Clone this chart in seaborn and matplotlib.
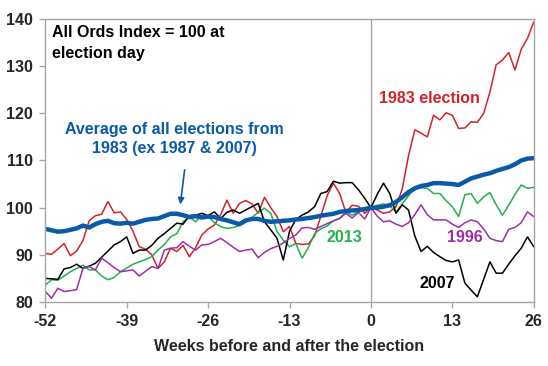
import numpy as np
import pandas as pd
import matplotlib
matplotlib.use("Agg")
import matplotlib.pyplot as plt
import seaborn as sns

weeks = list(range(-52, 27))

red_1983 = [90.3, 90.1, 91.2, 92.4, 89.8, 90.8, 93.0, 97.2, 98.3, 98.6,
            101.3, 98.9, 99.1, 97.5, 95.0, 91.7, 91.2, 90.0, 87.1, 88.5,
            91.4, 90.7, 92.0, 89.6, 91.5, 94.2, 95.5, 96.3, 98.5, 101.6,
            98.8, 100.9, 101.5, 100.8, 98.8, 102.2, 100.0, 98.1, 94.9, 96.0,
            92.4, 92.2, 92.3, 94.0, 98.2, 102.5, 105.2, 103.0, 99.0, 100.5,
            100.3, 98.8, 100.0, 99.5, 98.8, 99.1, 100.2, 104.0, 111.0, 116.5,
            115.8, 115.0, 119.6, 118.6, 120.1, 119.6, 116.8, 116.9, 118.2, 118.1,
            120.0, 124.5, 130.3, 131.3, 132.9, 129.2, 133.6, 135.9, 139.4]

green_2013 = [83.6, 84.7, 84.6, 85.5, 86.4, 87.1, 87.8, 86.8, 86.8, 85.5,
              84.7, 85.2, 86.4, 87.2, 88.0, 88.5, 89.0, 89.6, 91.0, 92.2,
              93.8, 94.5, 97.0, 98.0, 97.0, 98.4, 98.1, 96.8, 96.0, 95.6,
              95.8, 96.2, 96.9, 97.9, 99.0, 99.9, 98.8, 94.9, 93.1, 91.7,
              92.4, 89.3, 91.5, 94.5, 95.5, 96.1, 97.2, 97.7, 99.1, 98.4,
              99.1, 99.5, 100.0, 100.5, 100.8, 100.4, 99.1, 100.8, 102.5, 104.1,
              104.2, 104.1, 103.0, 103.0, 101.5, 100.2, 98.1, 102.7, 103.0, 100.9,
              102.3, 103.2, 100.6, 98.4, 100.5, 102.8, 104.8, 104.1, 104.3]

black_2007 = [85.0, 84.9, 84.8, 87.0, 87.3, 88.0, 87.1, 87.6, 88.2, 89.5,
              90.8, 92.1, 92.8, 93.8, 90.3, 91.0, 91.0, 92.0, 93.5, 94.5,
              95.6, 96.7, 96.5, 98.3, 98.4, 98.8, 98.3, 99.1, 97.7, 99.0,
              99.5, 98.8, 99.5, 100.2, 100.9, 97.0, 95.3, 93.5, 88.9, 95.0,
              97.5, 98.4, 99.1, 100.2, 103.0, 103.4, 105.6, 105.2, 105.3, 105.3,
              103.8, 102.0, 100.0, 102.8, 105.2, 103.0, 98.8, 100.6, 99.5, 94.0,
              90.7, 91.8, 90.5, 89.6, 88.8, 88.5, 88.9, 84.0, 82.5, 81.1,
              84.8, 88.5, 86.1, 86.1, 88.0, 89.8, 91.4, 93.8, 91.7]

purple_1996 = [82.2, 80.8, 82.9, 82.2, 82.4, 82.6, 87.1, 87.5, 86.8, 89.3,
               88.3, 87.3, 86.4, 86.6, 86.8, 85.5, 86.5, 87.5, 87.1, 91.0,
               91.4, 91.5, 92.8, 91.8, 91.0, 92.1, 92.2, 92.8, 93.5, 92.6,
               91.6, 90.7, 91.0, 91.2, 89.4, 90.5, 91.3, 91.8, 92.5, 93.5,
               94.2, 95.7, 95.8, 95.4, 96.0, 96.6, 97.2, 97.7, 98.8, 97.8,
               99.0, 97.6, 100.0, 98.2, 97.0, 97.2, 96.5, 96.0, 96.8, 98.5,
               100.6, 98.5, 97.4, 97.4, 97.4, 96.5, 95.8, 96.8, 97.4, 97.0,
               95.5, 93.5, 93.0, 92.8, 95.4, 95.8, 96.8, 99.1, 98.1]

blue_avg = [95.5, 95.2, 94.9, 95.0, 95.3, 95.6, 96.2, 95.8, 96.5, 97.0,
            97.2, 96.7, 96.6, 96.8, 96.6, 97.0, 97.4, 97.6, 97.7, 98.2,
            98.7, 98.7, 98.4, 98.0, 98.2, 97.9, 98.1, 98.0, 97.6, 97.3,
            96.9, 96.5, 97.3, 97.6, 97.6, 97.2, 97.0, 97.1, 97.2, 97.3,
            97.5, 97.6, 97.8, 98.0, 98.3, 98.5, 98.7, 99.1, 99.3, 99.4,
            99.5, 99.7, 100.0, 100.0, 100.2, 100.5, 101.2, 102.2, 103.3, 104.1,
            104.6, 104.8, 105.2, 105.2, 105.1, 105.0, 104.8, 105.5, 106.2, 106.6,
            107.0, 107.3, 107.8, 108.2, 108.6, 109.2, 110.0, 110.4, 110.5]

x_ticks = [-52, -39, -26, -13, 0, 13, 26]
y_ticks = [80, 90, 100, 110, 120, 130, 140]

series = {"1983": red_1983, "2013": green_2013, "2007": black_2007,
          "1996": purple_1996, "Average": blue_avg}
colors = {"1983": "#d2232a", "2013": "#22b14c", "2007": "#000000",
          "1996": "#9b2fa6", "Average": "#0a5aa8"}
widths = {"1983": 1.1, "2013": 1.1, "2007": 1.1, "1996": 1.1, "Average": 3.2}

df = pd.concat([pd.DataFrame({"week": weeks, "value": v, "series": k})
                for k, v in series.items()], ignore_index=True)

sns.set_theme(style="white")
plt.rcParams["font.family"] = ["Liberation Sans", "DejaVu Sans"]

fig = plt.figure(figsize=(5.48, 3.66), dpi=100)
ax = fig.add_axes([0.0827, 0.175, 0.8913, 0.773])

ax.axvline(0, color="#a6a6a6", lw=1.0, zorder=0)

for name in series:
    sns.lineplot(data=df[df["series"] == name], x="week", y="value",
                 color=colors[name], lw=widths[name], ax=ax, legend=False)

ax.set_xlim(-52, 26)
ax.set_ylim(80, 140)
ax.set_xticks(x_ticks)
ax.set_yticks(y_ticks)
ax.set_xticklabels([str(t) for t in x_ticks], fontsize=11.5, fontweight="bold")
ax.set_yticklabels([str(t) for t in y_ticks], fontsize=11.5, fontweight="bold")
ax.tick_params(axis="both", direction="out", length=4, width=1,
               color="#a6a6a6", pad=5, bottom=True, left=True)
ax.set_xlabel("Weeks before and after the election", fontsize=11.5,
              fontweight="bold", labelpad=7)
ax.set_ylabel("")
for s in ax.spines.values():
    s.set_color("#a6a6a6")
    s.set_linewidth(1.0)

ax.text(-51, 138.8, "All Ords Index = 100 at\nelection day", fontsize=11.5,
        fontweight="bold", color="black", va="top", ha="left", linespacing=1.5)
ax.text(9.3, 123.2, "1983 election", fontsize=11.5, fontweight="bold",
        color=colors["1983"], ha="center", va="center")
ax.text(-31.4, 114.5, "Average of all elections from\n1983 (ex 1987 & 2007)",
        fontsize=11.5, fontweight="bold", color=colors["Average"],
        ha="center", va="center", linespacing=1.3)
ax.annotate("", xy=(-30.5, 100.1), xytext=(-29.7, 108.6),
            arrowprops=dict(arrowstyle="-|>", color=colors["Average"],
                            lw=1.2, mutation_scale=9))
ax.text(-4.3, 93.6, "2013", fontsize=11.5, fontweight="bold",
        color=colors["2013"], ha="center", va="center")
ax.text(15.0, 93.6, "1996", fontsize=11.5, fontweight="bold",
        color=colors["1996"], ha="center", va="center")
ax.text(10.6, 84.0, "2007", fontsize=11.5, fontweight="bold",
        color=colors["2007"], ha="center", va="center")

fig.savefig("out.png", dpi=100)
